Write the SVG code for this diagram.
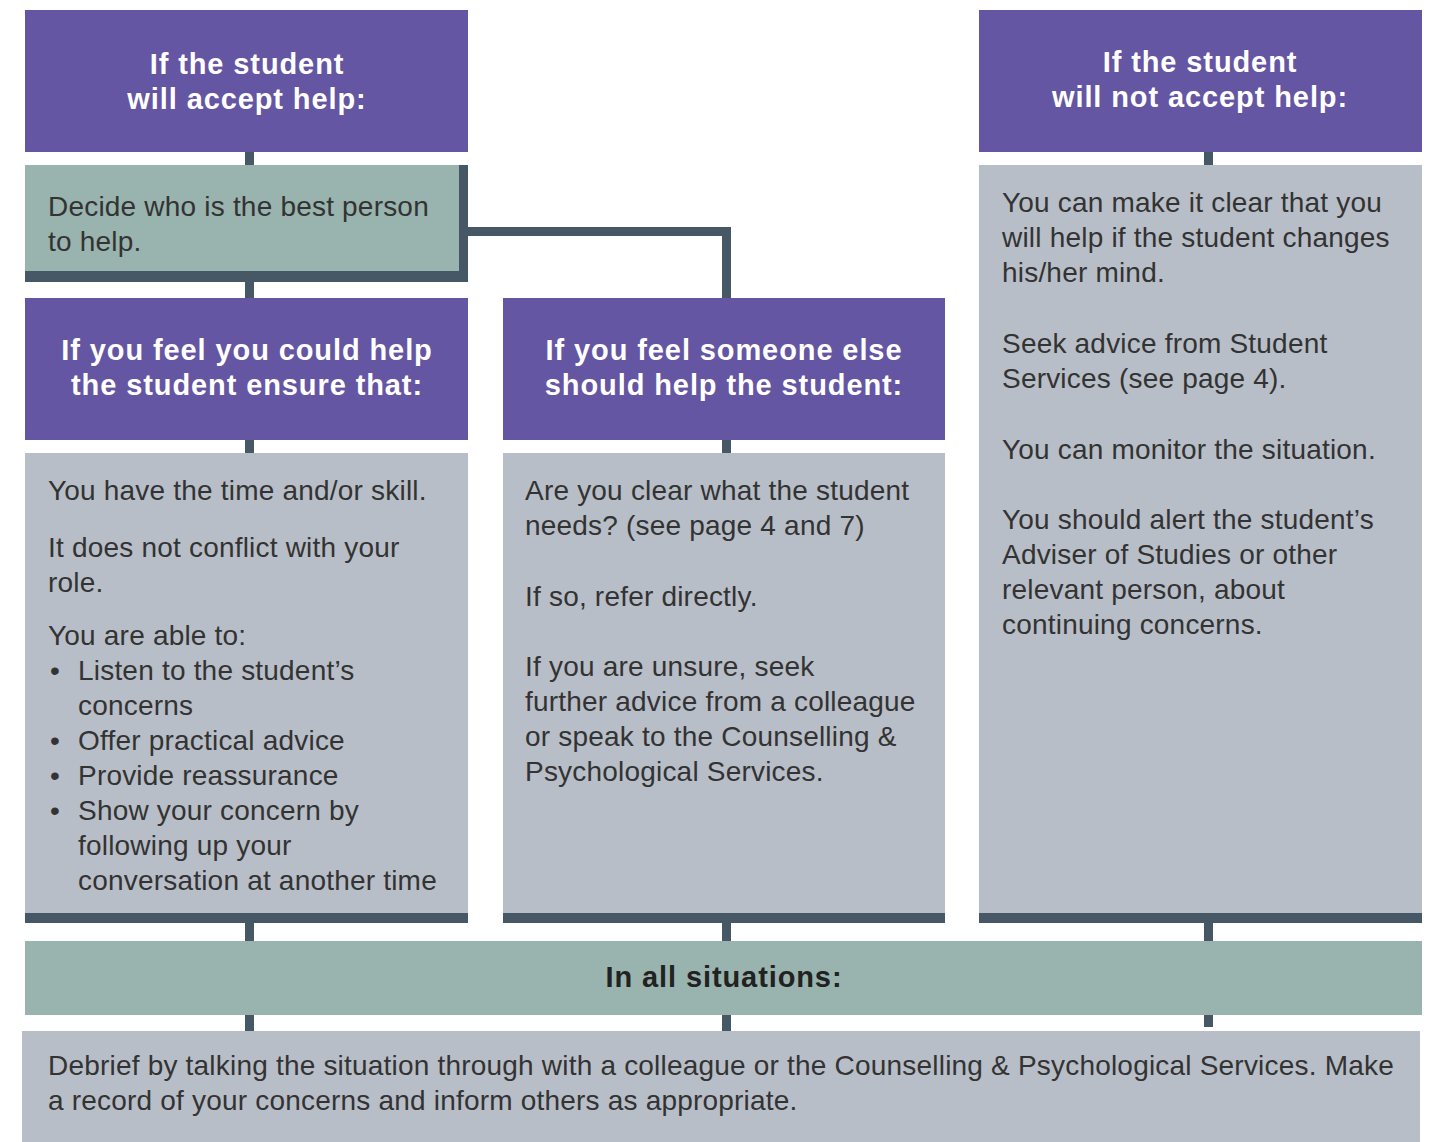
<svg xmlns="http://www.w3.org/2000/svg" width="1443" height="1142" viewBox="0 0 1443 1142">
<style>
.hd{fill:#6556a3}
.bd{fill:#b8bec7}
.gr{fill:#99b4ae}
.dk{fill:#465865}
.ht{font-family:"Liberation Sans",Arial,sans-serif;font-weight:bold;font-size:29px;letter-spacing:0.9px;fill:#ffffff;text-anchor:middle}
.bt{font-family:"Liberation Sans",Arial,sans-serif;font-size:28px;letter-spacing:0.2px;fill:#333333}
.st{font-family:"Liberation Sans",Arial,sans-serif;font-weight:bold;font-size:29px;letter-spacing:0.9px;fill:#222222;text-anchor:middle}
.cn{stroke:#465865;stroke-width:9;fill:none}
</style>
<rect width="1443" height="1142" fill="#ffffff"/>
<g id="connectors">
<line class="cn" x1="249.5" y1="150" x2="249.5" y2="167"/>
<line class="cn" x1="249.5" y1="280" x2="249.5" y2="300"/>
<polyline class="cn" points="466,231.5 726.5,231.5 726.5,300"/>
<line class="cn" x1="249.5" y1="438" x2="249.5" y2="455"/>
<line class="cn" x1="726.5" y1="438" x2="726.5" y2="455"/>
<line class="cn" x1="1208.5" y1="150" x2="1208.5" y2="167"/>
<line class="cn" x1="249.5" y1="921" x2="249.5" y2="943"/>
<line class="cn" x1="726.5" y1="921" x2="726.5" y2="943"/>
<line class="cn" x1="1208.5" y1="921" x2="1208.5" y2="943"/>
<line class="cn" x1="249.5" y1="1013" x2="249.5" y2="1033"/>
<line class="cn" x1="726.5" y1="1013" x2="726.5" y2="1033"/>
<line class="cn" x1="1208.5" y1="1013" x2="1208.5" y2="1027"/>
</g>
<g id="accept">
<rect class="hd" x="25" y="10" width="443" height="142"/>
<text class="ht" x="247" y="74">If the student</text>
<text class="ht" x="247" y="109">will accept help:</text>
</g>
<g id="decide">
<rect class="dk" x="25" y="165" width="443" height="117"/>
<rect class="gr" x="25" y="165" width="434" height="106"/>
<text class="bt" x="48" y="216">Decide who is the best person</text>
<text class="bt" x="48" y="251">to help.</text>
</g>
<g id="could-help">
<rect class="hd" x="25" y="298" width="443" height="142"/>
<text class="ht" x="247" y="360">If you feel you could help</text>
<text class="ht" x="247" y="395">the student ensure that:</text>
</g>
<g id="could-help-body">
<rect class="dk" x="25" y="453" width="443" height="470"/>
<rect class="bd" x="25" y="453" width="443" height="460"/>
<text class="bt" x="48" y="500">You have the time and/or skill.</text>
<text class="bt" x="48" y="557">It does not conflict with your</text>
<text class="bt" x="48" y="592">role.</text>
<text class="bt" x="48" y="645">You are able to:</text>
<text class="bt" x="50" y="680">•</text>
<text class="bt" x="78" y="680">Listen to the student’s</text>
<text class="bt" x="78" y="715">concerns</text>
<text class="bt" x="50" y="750">•</text>
<text class="bt" x="78" y="750">Offer practical advice</text>
<text class="bt" x="50" y="785">•</text>
<text class="bt" x="78" y="785">Provide reassurance</text>
<text class="bt" x="50" y="820">•</text>
<text class="bt" x="78" y="820">Show your concern by</text>
<text class="bt" x="78" y="855">following up your</text>
<text class="bt" x="78" y="890">conversation at another time</text>
</g>
<g id="someone-else">
<rect class="hd" x="503" y="298" width="442" height="142"/>
<text class="ht" x="724" y="360">If you feel someone else</text>
<text class="ht" x="724" y="395">should help the student:</text>
</g>
<g id="someone-else-body">
<rect class="dk" x="503" y="453" width="442" height="470"/>
<rect class="bd" x="503" y="453" width="442" height="460"/>
<text class="bt" x="525" y="500">Are you clear what the student</text>
<text class="bt" x="525" y="535">needs? (see page 4 and 7)</text>
<text class="bt" x="525" y="606">If so, refer directly.</text>
<text class="bt" x="525" y="676">If you are unsure, seek</text>
<text class="bt" x="525" y="711">further advice from a colleague</text>
<text class="bt" x="525" y="746">or speak to the Counselling &amp;</text>
<text class="bt" x="525" y="781">Psychological Services.</text>
</g>
<g id="not-accept">
<rect class="hd" x="979" y="10" width="443" height="142"/>
<text class="ht" x="1200" y="72">If the student</text>
<text class="ht" x="1200" y="107">will not accept help:</text>
</g>
<g id="not-accept-body">
<rect class="dk" x="979" y="165" width="443" height="758"/>
<rect class="bd" x="979" y="165" width="443" height="748"/>
<text class="bt" x="1002" y="212">You can make it clear that you</text>
<text class="bt" x="1002" y="247">will help if the student changes</text>
<text class="bt" x="1002" y="282">his/her mind.</text>
<text class="bt" x="1002" y="353">Seek advice from Student</text>
<text class="bt" x="1002" y="388">Services (see page 4).</text>
<text class="bt" x="1002" y="459">You can monitor the situation.</text>
<text class="bt" x="1002" y="529">You should alert the student’s</text>
<text class="bt" x="1002" y="564">Adviser of Studies or other</text>
<text class="bt" x="1002" y="599">relevant person, about</text>
<text class="bt" x="1002" y="634">continuing concerns.</text>
</g>
<g id="all-situations">
<rect class="gr" x="25" y="941" width="1397" height="74"/>
<text class="st" x="724" y="987">In all situations:</text>
</g>
<g id="debrief">
<rect class="bd" x="22" y="1031" width="1398" height="111"/>
<text class="bt" x="48" y="1075">Debrief by talking the situation through with a colleague or the Counselling &amp; Psychological Services. Make</text>
<text class="bt" x="48" y="1110">a record of your concerns and inform others as appropriate.</text>
</g>
</svg>
